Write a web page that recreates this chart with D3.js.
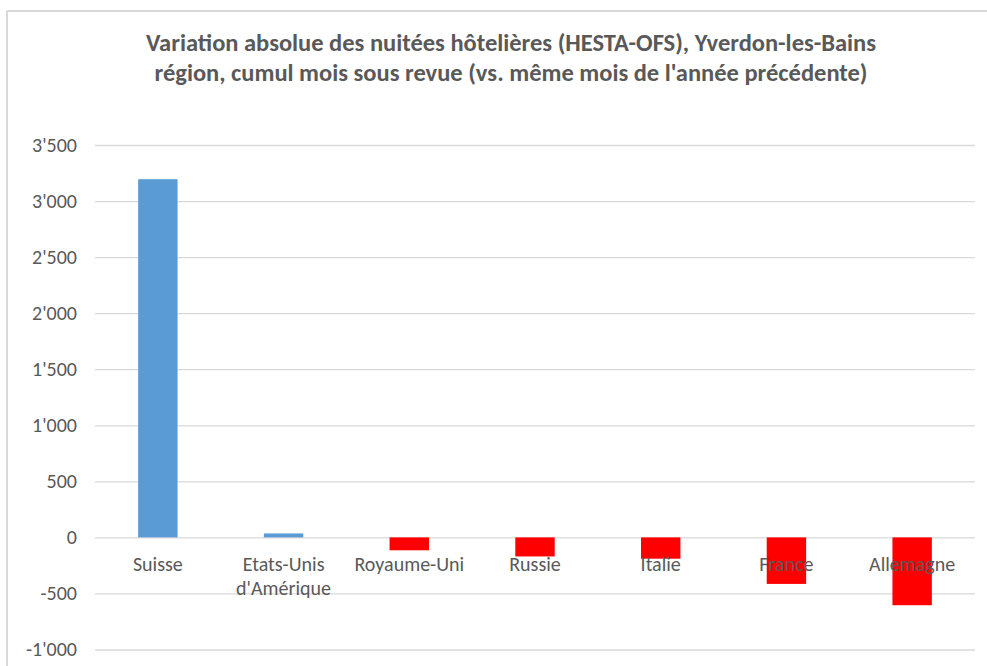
<!DOCTYPE html>
<html>
<head>
<meta charset="utf-8">
<script src="https://cdn.jsdelivr.net/npm/d3@7"></script>
<style>
  body { margin: 0; background: #fff; }
  text { font-family: Calibri, Carlito, Lato, sans-serif; fill: #595959; }
</style>
</head>
<body>
<div id="chart"></div>
<script>
// données
const categories = ["Suisse", "Etats-Unis\nd'Amérique", "Royaume-Uni", "Russie", "Italie", "France", "Allemagne"];
const values = [3195, 35, -115, -170, -190, -415, -605];
const y_ticks = [-1000, -500, 0, 500, 1000, 1500, 2000, 2500, 3000, 3500];
const title_lines = [
  "Variation absolue des nuitées hôtelières (HESTA-OFS), Yverdon-les-Bains",
  "région, cumul mois sous revue (vs. même mois de l'année précédente)"
];

const W = 987, H = 666;
const plot = { left: 95, right: 975, top: 145, bottom: 649.5 };

const svg = d3.select("#chart").append("svg")
  .attr("width", W)
  .attr("height", H);

// cadre (coupé à droite et en bas)
svg.append("line").attr("x1", 7).attr("x2", W).attr("y1", 11).attr("y2", 11)
  .attr("stroke", "#d9d9d9").attr("stroke-width", 2);
svg.append("line").attr("x1", 7).attr("x2", 7).attr("y1", 11).attr("y2", H)
  .attr("stroke", "#d9d9d9").attr("stroke-width", 2);

const x_scale = d3.scaleBand()
  .domain(categories)
  .range([plot.left, plot.right])
  .paddingInner(0.6865)
  .paddingOuter(0.6865 / 2);

const y_scale = d3.scaleLinear()
  .domain([-1000, 3500])
  .range([plot.bottom, plot.top]);

const fmt = d3.formatLocale({ thousands: "'", grouping: [3], decimal: ".", currency: ["", ""], minus: "-" }).format(",");

// grille + étiquettes Y
const y_axis = d3.axisLeft(y_scale)
  .tickValues(y_ticks)
  .tickSize(-(plot.right - plot.left))
  .tickPadding(18)
  .tickFormat(fmt);

const gy = svg.append("g")
  .attr("class", "y axis")
  .attr("transform", `translate(${plot.left},0)`)
  .call(y_axis);
gy.select(".domain").remove();
gy.selectAll(".tick line").attr("stroke", "#d9d9d9").attr("stroke-width", 1.3);
gy.selectAll(".tick text")
  .attr("fill", "#595959")
  .style("font-size", "20px");

// barres
svg.append("g").attr("class", "bars")
  .selectAll("rect")
  .data(values)
  .enter()
  .append("rect")
  .attr("x", (d, i) => x_scale(categories[i]))
  .attr("width", x_scale.bandwidth())
  .attr("y", d => y_scale(Math.max(0, d)))
  .attr("height", d => Math.abs(y_scale(d) - y_scale(0)))
  .attr("fill", d => d >= 0 ? "#5b9bd5" : "#ff0000");

// étiquettes X
const xl = svg.append("g").attr("class", "x labels")
  .selectAll("text")
  .data(categories)
  .enter()
  .append("text")
  .attr("text-anchor", "middle")
  .attr("y", 571)
  .style("font-size", "20px");
xl.each(function(d) {
  const t = d3.select(this);
  d.split("\n").forEach((s, k) => {
    t.append("tspan")
      .attr("x", x_scale(d) + x_scale.bandwidth() / 2)
      .attr("dy", k === 0 ? 0 : 24)
      .text(s);
  });
});

// titre
svg.append("g").attr("class", "title")
  .selectAll("text")
  .data(title_lines)
  .enter()
  .append("text")
  .attr("x", 511)
  .attr("y", (d, i) => 51 + i * 30)
  .attr("text-anchor", "middle")
  .style("font-size", "24.5px")
  .style("font-weight", "bold")
  .text(d => d);
</script>
</body>
</html>
